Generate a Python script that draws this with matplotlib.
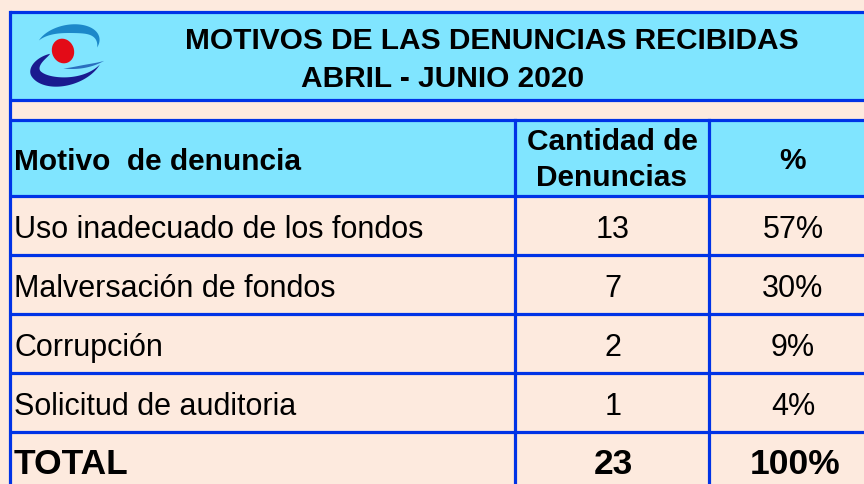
import numpy as np
import matplotlib.pyplot as plt
from matplotlib.patches import Rectangle, Ellipse, Polygon

plt.rcParams['font.family'] = ['Liberation Sans', 'DejaVu Sans']

# datos de la tabla
titulo = "MOTIVOS DE LAS DENUNCIAS RECIBIDAS"
periodo = "ABRIL - JUNIO 2020"
encabezados = ["Motivo  de denuncia", "Cantidad de\nDenuncias", "%"]
motivos = ["Uso inadecuado de los fondos", "Malversación de fondos",
           "Corrupción", "Solicitud de auditoria"]
cantidad = [13, 7, 2, 1]
porcentaje = ["57%", "30%", "9%", "4%"]
total_label = "TOTAL"
total_cant = sum(cantidad)
total_pct = "100%"

W, H = 864, 485
bg = '#FDEADE'
cyan = '#80E5FF'
azul = '#0033E6'
lw = 2.3

fig = plt.figure(figsize=(W / 100, H / 100), dpi=100)
fig.patch.set_facecolor(bg)
ax = fig.add_axes([0, 0, 1, 1])
ax.set_xlim(0, W)
ax.set_ylim(H, 0)
ax.axis('off')

left = 10
x_c1, x_c2 = 515, 709
top = 13
title_bot = 101
head_top = 121
head_bot = 197
row_h = 59

# cajas de color
ax.add_patch(Rectangle((left, top), W - left, title_bot - top, facecolor=cyan, edgecolor='none'))
ax.add_patch(Rectangle((left, head_top), W - left, head_bot - head_top, facecolor=cyan, edgecolor='none'))

# lineas
n = len(motivos)
total_top = head_bot + n * row_h
for y in [top, title_bot, head_top, head_bot] + [head_bot + (i + 1) * row_h for i in range(n)]:
    ax.plot([left, W], [y, y], color=azul, lw=lw, solid_capstyle='butt')
ax.plot([left, left], [top, H], color=azul, lw=lw)
for x in [x_c1, x_c2]:
    ax.plot([x, x], [head_top, H], color=azul, lw=lw)


# logo (arcos tipo media luna)
def arco(cx, cy, a, b, tilt, t0, t1, wmax, color, p=1.0, s0=1.0, t_full=None):
    k = 150
    t = np.radians(np.linspace(t0, t1, k))
    u = np.linspace(0, 1, k)
    w = wmax * np.sin(np.pi * u ** p)
    s = np.ones(k)
    if t_full is not None:
        f = np.clip((np.degrees(t) - t0) / (t_full - t0), 0, 1)
        s = s0 + (1 - s0) * np.sin(f * np.pi / 2)
    ox, oy = a * s * np.cos(t), b * s * np.sin(t)
    ix, iy = (a * s - w) * np.cos(t), (b * s - w) * np.sin(t)
    xs = np.concatenate([ox, ix[::-1]])
    ys = np.concatenate([oy, iy[::-1]])
    th = np.radians(tilt)
    rx = cx + xs * np.cos(th) - ys * np.sin(th)
    ry = cy - (xs * np.sin(th) + ys * np.cos(th))
    ax.add_patch(Polygon(np.column_stack([rx, ry]), closed=True, facecolor=color, edgecolor='none'))

arco(68, 45, 32, 19, 12, 150, -30, 9, '#1C88C9')
arco(66, 62, 38, 24, 18, 125, 325, 11, '#1A1A8F', p=0.8, s0=0.6, t_full=190)
arco(72, 35, 50, 35, 0, -100, -50, 3, '#2A6FBF')
ax.add_patch(Ellipse((63, 52), 22, 25, angle=-20, facecolor='#E30B17', edgecolor='none'))

# titulo
ax.text(492, 41, titulo, ha='center', va='center', fontsize=21.5, fontweight='bold')
ax.text(443, 79, periodo, ha='center', va='center', fontsize=21.5, fontweight='bold')

# encabezados
hy = (head_top + head_bot) / 2
ax.text(14, hy + 3, encabezados[0], ha='left', va='center', fontsize=21.5, fontweight='bold')
ax.text(612, hy + 1, encabezados[1], ha='center', va='center', fontsize=21.5, fontweight='bold', linespacing=1.33)
ax.text(793, hy + 2, encabezados[2], ha='center', va='center', fontsize=21.5, fontweight='bold')

# filas
for i, (m, c, p) in enumerate(zip(motivos, cantidad, porcentaje)):
    y = head_bot + i * row_h + row_h / 2 + 4
    ax.text(14, y, m, ha='left', va='center', fontsize=22)
    ax.text(613, y, str(c), ha='center', va='center', fontsize=22)
    ax.text(793, y, p, ha='center', va='center', fontsize=22)

ty = total_top + 32
ax.text(14, ty, total_label, ha='left', va='center', fontsize=25.5, fontweight='bold')
ax.text(613, ty, str(total_cant), ha='center', va='center', fontsize=25.5, fontweight='bold')
ax.text(795, ty, total_pct, ha='center', va='center', fontsize=25.5, fontweight='bold')

plt.savefig('out.png', dpi=100, facecolor=bg)
